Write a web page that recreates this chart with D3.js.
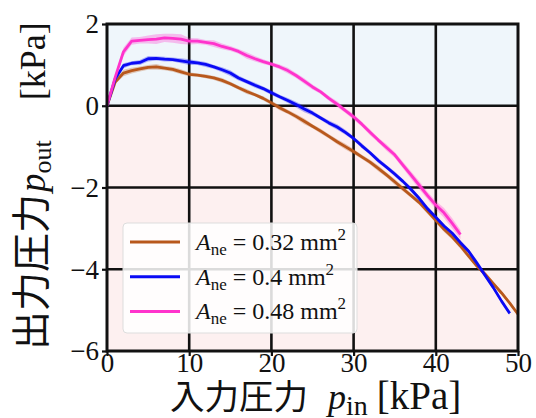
<!DOCTYPE html>
<html>
<head>
<meta charset="utf-8">
<script src="https://cdn.jsdelivr.net/npm/d3@7"></script>
<style>
  html, body { margin: 0; padding: 0; background: #ffffff; }
  svg { display: block; }
</style>
</head>
<body>
<svg id="chart" width="536" height="418"></svg>
<script>
// Input pressure grid [kPa]
const pIn = d3.range(0, 51);

// Mean output pressure [kPa] for each nozzle area
const pOut032 = [0, 0.58, 0.8, 0.86, 0.9, 0.94, 0.95, 0.92, 0.89, 0.83, 0.77, 0.75, 0.72, 0.68, 0.62, 0.54,
  0.44, 0.35, 0.27, 0.18, 0.07, -0.05, -0.15, -0.26, -0.38, -0.5, -0.62, -0.75, -0.88, -1.0, -1.12,
  -1.25, -1.38, -1.53, -1.69, -1.86, -2.03, -2.2, -2.37, -2.58, -2.8, -3.02, -3.21, -3.43, -3.68,
  -3.92, -4.12, -4.35, -4.58, -4.83, -5.1];
const pOut040 = [0, 0.66, 0.98, 1.04, 1.06, 1.15, 1.16, 1.14, 1.13, 1.1, 1.07, 1.05, 1.01, 0.95, 0.88, 0.8,
  0.68, 0.59, 0.5, 0.42, 0.32, 0.22, 0.13, 0.03, -0.08, -0.18, -0.3, -0.42, -0.52, -0.65, -0.8,
  -0.98, -1.15, -1.34, -1.5, -1.67, -1.85, -2.05, -2.27, -2.52, -2.73, -2.94, -3.12, -3.35, -3.56,
  -3.85, -4.15, -4.45, -4.78, -5.08];
const pOut048 = [0, 0.7, 1.32, 1.58, 1.6, 1.62, 1.63, 1.66, 1.65, 1.63, 1.58, 1.58, 1.55, 1.52, 1.45, 1.4,
  1.33, 1.23, 1.15, 1.08, 1.02, 0.95, 0.86, 0.74, 0.6, 0.46, 0.34, 0.18, 0.04, -0.12, -0.27,
  -0.45, -0.65, -0.84, -1.02, -1.2, -1.45, -1.7, -1.95, -2.2, -2.43, -2.62, -2.88, -3.15];

// Standard deviation of the output pressure [kPa]
const sd032 = [0, 0.05, 0.08, 0.07, 0.06, 0.06, 0.07, 0.05, 0.06, 0.06, 0.05, 0.04, 0.05, 0.05, 0.06, 0.05,
  0.05, 0.06, 0.04, 0.05, 0.05, 0.06, 0.05, 0.06, 0.07, 0.05, 0.06, 0.05, 0.06, 0.07, 0.06,
  0.05, 0.06, 0.07, 0.06, 0.07, 0.06, 0.05, 0.06, 0.07, 0.06, 0.07, 0.06, 0.07, 0.06,
  0.05, 0.06, 0.05, 0.05, 0.04, 0.04];
const sd040 = [0, 0.04, 0.06, 0.05, 0.06, 0.07, 0.05, 0.06, 0.05, 0.06, 0.07, 0.05, 0.06, 0.05, 0.06, 0.07,
  0.06, 0.05, 0.06, 0.05, 0.06, 0.05, 0.06, 0.07, 0.08, 0.06, 0.05, 0.06, 0.07, 0.06, 0.05,
  0.06, 0.05, 0.06, 0.05, 0.06, 0.05, 0.06, 0.05, 0.06, 0.05, 0.04, 0.05, 0.06, 0.05,
  0.07, 0.06, 0.05, 0.04, 0.04];
const sd048 = [0, 0.06, 0.1, 0.09, 0.08, 0.1, 0.12, 0.1, 0.11, 0.12, 0.08, 0.07, 0.06, 0.08, 0.07, 0.06,
  0.06, 0.08, 0.07, 0.06, 0.05, 0.06, 0.07, 0.06, 0.07, 0.06, 0.05, 0.06, 0.07, 0.06, 0.07,
  0.06, 0.07, 0.06, 0.08, 0.07, 0.08, 0.09, 0.1, 0.09, 0.1, 0.12, 0.13, 0.11];

const seriesNames = ["0.32", "0.4", "0.48"];
const seriesColors = ["#b8581c", "#0a0af5", "#ff33cc"];
const seriesMeans = [pOut032, pOut040, pOut048];
const seriesSd = [sd032, sd040, sd048];

const xTicks = [0, 10, 20, 30, 40, 50];
const yTicks = [-6, -4, -2, 0, 2];

const serif = "'Liberation Serif', 'Times New Roman', serif";
const cjk = "'Noto Sans CJK JP', 'Noto Sans CJK SC', sans-serif";

const svg = d3.select("#chart");
const m = { left: 107, right: 518, top: 24, bottom: 351 };

const x = d3.scaleLinear().domain([0, 50]).range([m.left, m.right]);
const y = d3.scaleLinear().domain([-6, 2]).range([m.bottom, m.top]);

// Background: positive half light blue, negative half light pink
svg.append("rect")
  .attr("x", x(0)).attr("y", y(2))
  .attr("width", x(50) - x(0)).attr("height", y(0) - y(2))
  .attr("fill", "#eff6fb");
svg.append("rect")
  .attr("x", x(0)).attr("y", y(0))
  .attr("width", x(50) - x(0)).attr("height", y(-6) - y(0))
  .attr("fill", "#fdf0f0");

// Grid
const grid = svg.append("g").attr("stroke", "#111").attr("stroke-width", 2.6);
grid.selectAll("line.gx").data(xTicks.slice(1, -1)).join("line")
  .attr("x1", d => x(d)).attr("x2", d => x(d))
  .attr("y1", y(2)).attr("y2", y(-6));
grid.selectAll("line.gy").data(yTicks.slice(1, -1)).join("line")
  .attr("x1", x(0)).attr("x2", x(50))
  .attr("y1", d => y(d)).attr("y2", d => y(d));

// Axes
const fmt = d => (d < 0 ? "\u2212" + Math.abs(d) : String(d));
const xAxis = svg.append("g")
  .attr("transform", `translate(0,${m.bottom})`)
  .call(d3.axisBottom(x).tickValues(xTicks).tickFormat(fmt).tickSize(5).tickPadding(1));
const yAxis = svg.append("g")
  .attr("transform", `translate(${m.left},0)`)
  .call(d3.axisLeft(y).tickValues(yTicks).tickFormat(fmt).tickSize(5).tickPadding(3));
[xAxis, yAxis].forEach(a => {
  a.select(".domain").remove();
  a.selectAll(".tick line").attr("stroke", "#111").attr("stroke-width", 2.2);
  a.selectAll(".tick text")
    .attr("fill", "#111")
    .style("font-family", serif)
    .style("font-size", "27px");
});
xAxis.selectAll(".tick text").attr("dy", "0.55em");
yAxis.selectAll(".tick text").attr("dy", "0.33em");

// Bands and mean lines
const plot = svg.append("g");
seriesMeans.forEach((vals, i) => {
  const pts = vals.map((v, j) => ({ x: pIn[j], y: v, s: seriesSd[i][j] }));
  plot.append("path")
    .datum(pts)
    .attr("fill", seriesColors[i])
    .attr("fill-opacity", 0.3)
    .attr("d", d3.area().x(d => x(d.x)).y0(d => y(d.y - d.s)).y1(d => y(d.y + d.s)));
});
seriesMeans.forEach((vals, i) => {
  const pts = vals.map((v, j) => ({ x: pIn[j], y: v }));
  plot.append("path")
    .datum(pts)
    .attr("fill", "none")
    .attr("stroke", seriesColors[i])
    .attr("stroke-width", 2.8)
    .attr("stroke-linejoin", "round")
    .attr("d", d3.line().x(d => x(d.x)).y(d => y(d.y)));
});

// Frame
svg.append("rect")
  .attr("x", x(0)).attr("y", y(2))
  .attr("width", x(50) - x(0)).attr("height", y(-6) - y(2))
  .attr("fill", "none").attr("stroke", "#111").attr("stroke-width", 3);

// Legend
const lg = svg.append("g").attr("transform", "translate(123,223)");
lg.append("rect")
  .attr("width", 234).attr("height", 110).attr("rx", 4)
  .attr("fill", "#ffffff").attr("fill-opacity", 0.85)
  .attr("stroke", "#dddddd").attr("stroke-width", 1);
seriesNames.forEach((name, i) => {
  const cy = 19 + i * 34.7;
  lg.append("line")
    .attr("x1", 7).attr("x2", 57).attr("y1", cy).attr("y2", cy)
    .attr("stroke", seriesColors[i]).attr("stroke-width", 3);
  const t = lg.append("text")
    .attr("x", 73).attr("y", cy + 8)
    .style("font-family", serif).style("font-size", "24px").attr("fill", "#111");
  t.append("tspan").attr("font-style", "italic").text("A");
  t.append("tspan").attr("font-size", "17px").attr("dy", 5).text("ne");
  t.append("tspan").attr("dy", -5).text(" = " + name + " mm");
  t.append("tspan").attr("font-size", "17px").attr("dy", -10).text("2");
});

// Axis titles
const xt = svg.append("text")
  .attr("x", 170).attr("y", 409)
  .attr("fill", "#111");
xt.append("tspan").style("font-family", cjk).style("font-size", "34.5px").text("入力圧力");
xt.append("tspan").style("font-family", serif).style("font-size", "36px")
  .attr("font-style", "italic").attr("dx", 20).text("p");
xt.append("tspan").style("font-family", serif).style("font-size", "28px").attr("dy", 6).text("in");
xt.append("tspan").style("font-family", serif).style("font-size", "39px")
  .attr("dy", -6).attr("dx", 9).text("[kPa]");

const yt = svg.append("text")
  .attr("transform", "translate(45,350) rotate(-90)")
  .attr("x", 0).attr("y", 0)
  .attr("fill", "#111");
yt.append("tspan").style("font-family", cjk).style("font-size", "39px").text("出力圧力");
yt.append("tspan").style("font-family", serif).style("font-size", "37px")
  .attr("font-style", "italic").attr("dx", 2).text("p");
yt.append("tspan").style("font-family", serif).style("font-size", "26px").attr("dy", 6).text("out");
yt.append("tspan").style("font-family", serif).style("font-size", "36px")
  .attr("dy", -6).attr("dx", 40).text("[kPa]");
</script>
</body>
</html>
